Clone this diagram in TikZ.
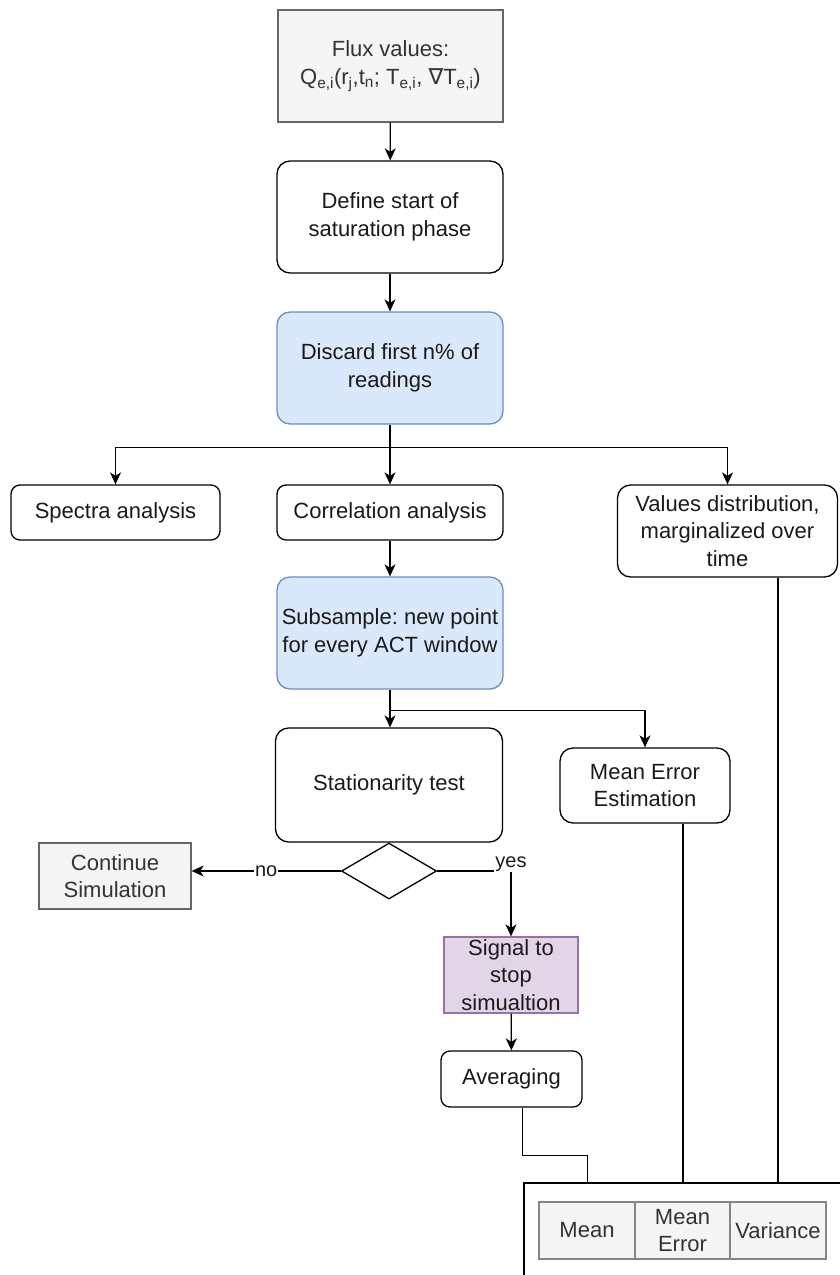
\documentclass[tikz,border=0pt]{standalone}
\usepackage{fontspec}
\setmainfont{Liberation Sans}
\newfontfamily\dvs{DejaVu Sans}
\usetikzlibrary{arrows.meta,shapes.geometric}
\frenchspacing
\definecolor{txt}{HTML}{1A1A1A}
\definecolor{graytxt}{HTML}{333333}
\definecolor{grayfill}{HTML}{F5F5F5}
\definecolor{graydraw}{HTML}{666666}
\definecolor{bluefill}{HTML}{DAE8FC}
\definecolor{bluedraw}{HTML}{6C8EBF}
\definecolor{purpfill}{HTML}{E1D5E7}
\definecolor{purpdraw}{HTML}{9673A6}
\tikzset{
  base/.style={draw=black, line width=1.3pt, text=txt, align=center, inner sep=1pt,
    font=\fontsize{22}{27.5}\selectfont\frenchspacing},
  rbox/.style={base, rounded corners=13pt},
  rsmall/.style={base, rounded corners=9pt},
  bluebox/.style={rbox, fill=bluefill, draw=bluedraw},
  graybox/.style={base, fill=grayfill, draw=graydraw, text=graytxt},
  purpbox/.style={base, fill=purpfill, draw=purpdraw},
  cell/.style={base, fill=grayfill, draw=graydraw!80, text=graytxt, line width=1.3pt},
  conn/.style={line width=1.3pt, draw=black},
  arr/.style={conn, -{Stealth[length=12pt, width=11pt, inset=3.5pt]}},
  lbl/.style={fill=white, text=txt, inner sep=1pt, font=\fontsize{20}{22}\selectfont}
}
\begin{document}
\begin{tikzpicture}[x=1pt,y=-1pt]
\useasboundingbox (0,0) rectangle (839,1275);
\fill[white] (0,0) rectangle (839,1275);

\node[graybox, minimum width=225, minimum height=112] (flux) at (390.5,66)
  {Flux values:\\Q\textsubscript{e,i}(r\textsubscript{j},t\textsubscript{n}; T\textsubscript{e,i}, {\dvs ∇}T\textsubscript{e,i})};
\node[rbox, minimum width=226, minimum height=112] (define) at (390,217)
  {Define start of\\saturation phase};
\node[bluebox, minimum width=226, minimum height=112] (discard) at (390,368)
  {Discard first n\% of\\readings};
\node[rsmall, minimum width=209, minimum height=55] (spectra) at (115.5,512.5)
  {Spectra analysis};
\node[rsmall, minimum width=226, minimum height=55] (corr) at (390,512.5)
  {Correlation analysis};
\node[rbox, minimum width=220, minimum height=92] (values) at (727.5,531)
  {Values distribution,\\marginalized over\\time};
\node[bluebox, minimum width=226, minimum height=112] (subsample) at (390,633)
  {Subsample: new point\\for every ACT window};
\node[rbox, minimum width=227, minimum height=114] (stat) at (389,785)
  {Stationarity test};
\node[rbox, minimum width=170, minimum height=75] (meanerr) at (645,785.5)
  {Mean Error\\Estimation};
\node[diamond, draw=black, line width=1.3pt, minimum width=95, minimum height=56,
  inner sep=0pt] (dia) at (389,871) {};
\node[graybox, minimum width=152, minimum height=66] (cont) at (115,876)
  {Continue\\Simulation};
\node[purpbox, minimum width=134, minimum height=76] (signal) at (511,975)
  {Signal to\\stop\\simualtion};
\node[rsmall, minimum width=141, minimum height=56] (avg) at (511.5,1079)
  {Averaging};
\node[draw=black, line width=1.3pt, minimum width=340, minimum height=120,
  inner sep=0pt] (container) at (694,1243) {};
\node[cell, minimum width=96, minimum height=57] (cmean) at (587,1230.5) {Mean};
\node[cell, minimum width=95, minimum height=57] (cmerr) at (682.5,1230.5) {Mean\\Error};
\node[cell, minimum width=96, minimum height=57] (cvar) at (778,1230.5) {Variance};

\draw[arr] (flux) -- (define);
\draw[arr] (define) -- (discard);
\draw[conn] (discard.south) -- ++(0,23) coordinate (b1);
\draw[arr] (b1) -| (spectra.north);
\draw[arr] (b1) -- (corr.north);
\draw[arr] (b1) -| (values.north);
\draw[arr] (corr) -- (subsample);
\draw[conn] (subsample.south) -- ++(0,21) coordinate (b2);
\draw[arr] (b2) -- (b2 |- stat.north);
\draw[arr] (b2) -| (meanerr.north);
\draw[arr] (dia.west) -- node[lbl]{no} (dia.west -| cont.east);
\draw[arr] (dia.east) -| node[lbl, pos=0.5, yshift=7pt]{yes} (signal.north);
\draw[arr] (signal) -- (avg);
\draw[conn] ([xshift=11pt]avg.south) -- ++(0,48) -| ([xshift=64pt]container.north west);
\draw[conn] ([xshift=38pt]meanerr.south) -- ([xshift=38pt]meanerr.south |- container.north);
\draw[conn] ([xshift=50.5pt]values.south) -- ([xshift=50.5pt]values.south |- container.north);
\end{tikzpicture}
\end{document}
